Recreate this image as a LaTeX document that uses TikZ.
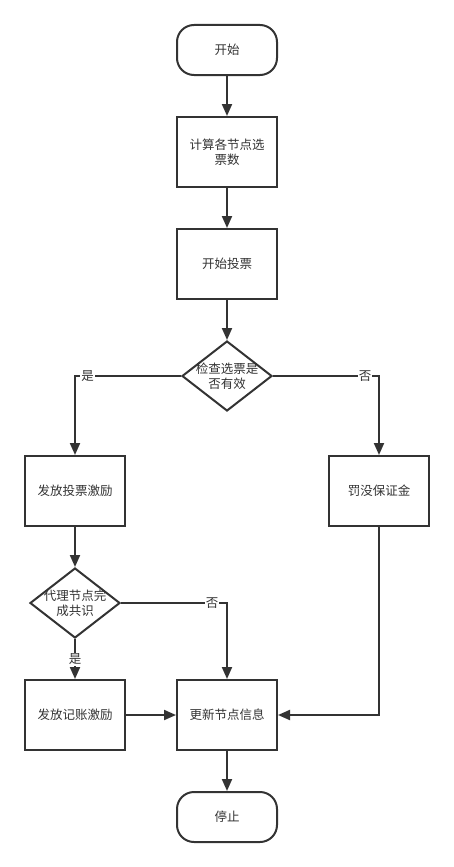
\documentclass[tikz,border=0pt]{standalone}
\usepackage{fontspec}
\newfontfamily\cjk{Noto Sans CJK SC}
\usetikzlibrary{arrows.meta, positioning, shapes.geometric}
\definecolor{linecol}{RGB}{51,51,51}

\begin{document}
\begin{tikzpicture}[
  x=1pt, y=-1pt,
  >={Triangle[length=12pt, width=10pt]},
  font=\cjk\fontsize{12.5}{15.5}\selectfont,
  every node/.style={text=linecol},
  node distance=40pt,
  terminal/.style={draw=linecol, line width=2pt, rounded corners=17pt,
                   minimum width=100pt, minimum height=50pt, align=center},
  process/.style={draw=linecol, line width=2pt,
                  minimum width=100pt, minimum height=70pt, align=center},
  decision/.style={draw=linecol, line width=2pt, diamond, aspect=1.29,
                   inner sep=-4pt, minimum width=90pt, minimum height=70pt,
                   align=center},
  flow/.style={->, draw=linecol, line width=2pt},
  lbl/.style={fill=white, inner sep=1pt}
]
  \useasboundingbox (0,0) rectangle (454,867);
  \node[terminal] (start) at (227,50) {开始};
  \node[process, below=of start] (count) {计算各节点选\\票数};
  \node[process, below=of count] (vote) {开始投票};
  \node[decision, below=of vote] (check) {检查选票是\\否有效};
  \node[process] (reward) at (75,491) {发放投票激励};
  \node[process] (penalty) at (379,491) {罚没保证金};
  \node[decision, below=of reward] (consensus) {代理节点完\\成共识};
  \node[process, below=of consensus] (bill) {发放记账激励};
  \node[process] (update) at (227,715) {更新节点信息};
  \node[terminal, below=of update] (stop) {停止};

  \draw[flow] (start) -- (count);
  \draw[flow] (count) -- (vote);
  \draw[flow] (vote) -- (check);
  \draw[flow] (check.west) -| node[lbl, pos=0.44] {是} (reward.north);
  \draw[flow] (check.east) -| node[lbl, pos=0.435] {否} (penalty.north);
  \draw[flow] (reward) -- (consensus);
  \draw[flow] (consensus.east) -| node[lbl, pos=0.43] {否} (update.north);
  \draw[flow] (consensus) -- node[lbl] {是} (bill);
  \draw[flow] (bill) -- (update);
  \draw[flow] (penalty.south) |- (update.east);
  \draw[flow] (update) -- (stop);
\end{tikzpicture}
\end{document}
